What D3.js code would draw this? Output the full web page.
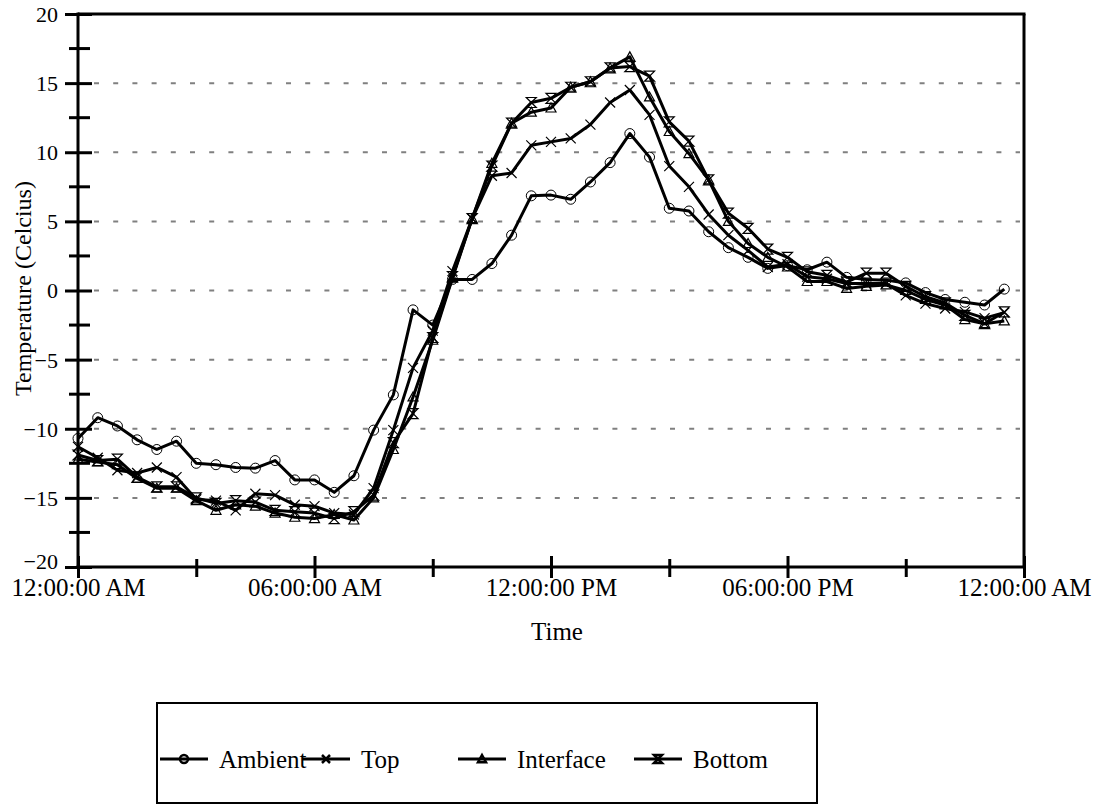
<!DOCTYPE html>
<html><head><meta charset="utf-8">
<script src="https://cdn.jsdelivr.net/npm/d3@7/dist/d3.min.js"></script>
<style>body{margin:0;background:#fff}text{font-family:"Liberation Serif","Times New Roman",serif;fill:#000}</style>
</head><body><svg id="c" width="1099" height="805"></svg>
<script>
const seriesNames = ["Ambient","Top","Interface","Bottom"];
const timeHours = d3.range(0, 24, 0.5);
const ambient = [-10.7,-9.2,-9.8,-10.8,-11.5,-10.9,-12.5,-12.6,-12.8,-12.85,-12.3,-13.7,-13.7,-14.6,-13.4,-10.1,-7.55,-1.4,-2.5,0.8,0.8,1.95,4.0,6.85,6.9,6.6,7.85,9.25,11.35,9.65,5.95,5.75,4.25,3.1,2.4,1.6,1.8,1.5,2.05,0.95,0.8,0.75,0.55,-0.15,-0.65,-0.85,-1.05,0.1];
const top_ = [-11.3,-12.1,-13.0,-13.2,-12.8,-13.5,-15.1,-15.2,-15.9,-14.7,-14.8,-15.5,-15.6,-16.1,-16.2,-14.3,-10.1,-5.6,-2.9,1.4,5.2,8.3,8.5,10.5,10.75,11.0,12.0,13.6,14.5,12.7,9.0,7.5,5.5,4.0,2.9,1.7,1.9,1.0,0.85,0.5,0.5,0.5,-0.35,-0.95,-1.3,-1.55,-2.0,-1.6];
const interfaceT = [-12.2,-12.4,-12.6,-13.6,-14.3,-14.3,-15.2,-15.9,-15.5,-15.6,-16.1,-16.4,-16.5,-16.2,-16.6,-15.0,-11.5,-7.7,-3.6,0.9,5.2,9.2,12.1,12.9,13.2,14.7,15.1,16.1,16.9,14.0,11.5,9.9,8.0,5.0,3.4,2.4,1.7,0.65,0.65,0.15,0.3,0.4,0.0,-0.65,-1.05,-2.1,-2.4,-2.2];
const bottom = [-11.9,-12.3,-12.2,-13.5,-14.2,-14.2,-15.0,-15.4,-15.2,-15.3,-15.9,-16.0,-16.1,-16.5,-16.0,-14.8,-11.0,-8.9,-3.4,1.0,5.2,9.0,12.1,13.6,13.9,14.7,15.1,16.1,16.2,15.5,12.2,10.8,8.0,5.6,4.5,3.0,2.4,1.35,1.1,0.6,1.25,1.25,0.3,-0.45,-0.9,-1.8,-2.4,-1.55];
const xTickHours = [0,3,6,9,12,15,18,21,24];
const xTickLabels = {0:"12:00:00 AM",6:"06:00:00 AM",12:"12:00:00 PM",18:"06:00:00 PM",24:"12:00:00 AM"};
const yTicks = [-20,-15,-10,-5,0,5,10,15,20];
const yMinor = [-17.5,-12.5,-7.5,-2.5,2.5,7.5,12.5,17.5];
const gridVals = [-15,-10,-5,0,5,10,15];

const svg = d3.select("#c");
const L=78,R=1024,T=14,B=567;
const x = d3.scaleLinear().domain([0,24]).range([L,R]);
const y = d3.scaleLinear().domain([-20,20]).range([B,T]);

// grid
svg.append("g").selectAll("line").data(gridVals).join("line")
  .attr("x1",L+16).attr("x2",R-4).attr("y1",d=>y(d)).attr("y2",d=>y(d))
  .attr("stroke","#808080").attr("stroke-width",2).attr("stroke-dasharray","5,14.2");

// frame top/right
svg.append("line").attr("x1",L).attr("x2",R+1.5).attr("y1",T).attr("y2",T).attr("stroke","#000").attr("stroke-width",3);
svg.append("line").attr("x1",R).attr("x2",R).attr("y1",T).attr("y2",B).attr("stroke","#000").attr("stroke-width",3);

// y axis
const ya = svg.append("g").attr("transform",`translate(${L},0)`)
  .call(d3.axisLeft(y).tickValues(yTicks).tickSize(13).tickFormat(d3.format("d")));
ya.select(".domain").attr("stroke-width",3).attr("d",`M0,${B+1.5}V${T-1.5}`);
ya.selectAll(".tick line").attr("x1",14).attr("stroke-width",3);
ya.selectAll(".tick text").attr("x",-20).attr("font-size",22).attr("font-family","Liberation Serif").attr("dy",d=>d===-20?"0.07em":"0.34em");
svg.append("g").selectAll("line").data(yMinor).join("line")
  .attr("x1",L-9).attr("x2",L+12).attr("y1",d=>y(d)).attr("y2",d=>y(d)).attr("stroke","#000").attr("stroke-width",3);

// x axis
const xa = svg.append("g").attr("transform",`translate(0,${B})`)
  .call(d3.axisBottom(x).tickValues(xTickHours).tickSize(11).tickFormat(d=>xTickLabels[d]||""));
xa.select(".domain").attr("stroke-width",3).attr("d",`M${L-1.5},0H${R+1.5}`);
xa.selectAll(".tick line").attr("y1",d=>d%6===0?-11:-8).attr("y2",d=>d%6===0?11:10).attr("stroke-width",3);
xa.selectAll(".tick text").attr("y",29).attr("dy","0").attr("font-size",25).attr("font-family","Liberation Serif");

svg.append("text").attr("x",557).attr("y",640).attr("text-anchor","middle").attr("font-size",25).text("Time");
svg.append("text").attr("transform",`translate(31,${(T+B)/2-2}) rotate(-90)`).attr("text-anchor","middle").attr("font-size",24).text("Temperature (Celcius)");

// markers
function marker(g, type, s){
  if(type==="circle") g.append("circle").attr("r",s).attr("fill","none").attr("stroke","#000").attr("stroke-width",1);
  else if(type==="x") g.append("path").attr("d",`M${-s},${-s}L${s},${s}M${-s},${s}L${s},${-s}`).attr("stroke","#000").attr("stroke-width",1.2).attr("fill","none");
  else if(type==="tri") g.append("path").attr("d",`M0,${-s}L${s},${s*0.8}L${-s},${s*0.8}Z`).attr("stroke","#000").attr("stroke-width",1.2).attr("fill","none");
  else if(type==="hour") g.append("path").attr("d",`M${-s},${-s}H${s}L${-s},${s}H${s}Z`).attr("stroke","#000").attr("stroke-width",1.2).attr("fill","none");
}
const series = [
  {name:"Ambient",vals:ambient,m:"circle"},
  {name:"Top",vals:top_,m:"x"},
  {name:"Interface",vals:interfaceT,m:"tri"},
  {name:"Bottom",vals:bottom,m:"hour"}
];
const line = d3.line().x((d,i)=>x(timeHours[i])).y(d=>y(d));
series.forEach(s=>{
  svg.append("path").datum(s.vals).attr("d",line).attr("fill","none").attr("stroke","#000").attr("stroke-width",3).attr("stroke-linejoin","round");
});
series.forEach(s=>{
  const g = svg.append("g");
  s.vals.forEach((v,i)=>{
    const mg = g.append("g").attr("transform",`translate(${x(timeHours[i])},${y(v)})`);
    marker(mg, s.m, 5);
  });
});

// legend
svg.append("rect").attr("x",157).attr("y",703).attr("width",660).attr("height",100).attr("fill","none").attr("stroke","#000").attr("stroke-width",2);
const legX = [160,302,458,634];
series.forEach((s,k)=>{
  const g = svg.append("g").attr("transform",`translate(${legX[k]},759)`);
  g.append("line").attr("x1",0).attr("x2",48).attr("stroke","#000").attr("stroke-width",3);
  const mg = g.append("g").attr("transform","translate(24,0)");
  marker(mg, s.m, 4);
  mg.selectAll("circle,path").attr("stroke-width",2.5);
  g.append("text").attr("x",59).attr("y",9).attr("font-size",25).text(s.name);
});
</script></body></html>
